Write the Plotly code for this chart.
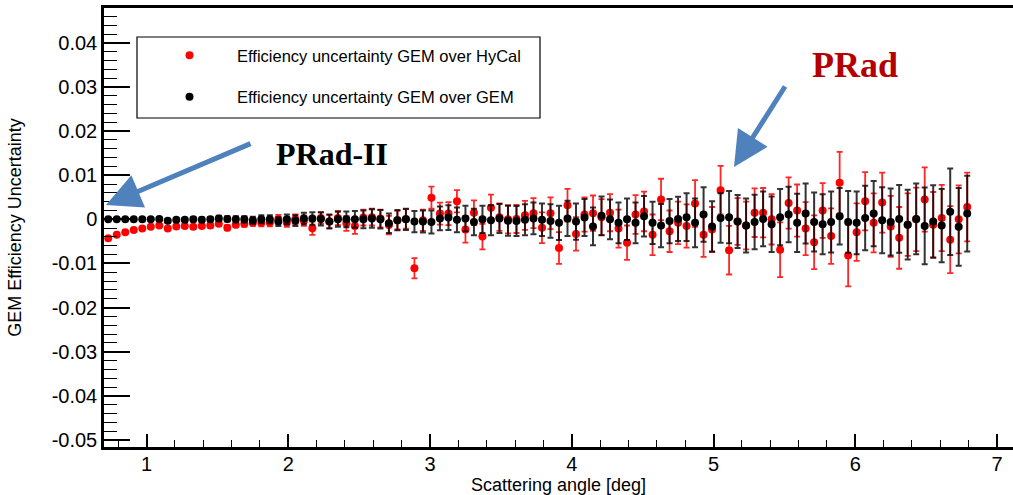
import plotly.graph_objects as go

# bin centres of the scattering angle [deg]
angle = [0.73, 0.79, 0.85, 0.91, 0.97, 1.03, 1.09, 1.15, 1.21, 1.27, 1.33, 1.39, 1.45, 1.51, 1.57, 1.63, 1.69,
         1.75, 1.81, 1.87, 1.93, 1.99, 2.05, 2.11, 2.17, 2.23, 2.29, 2.35, 2.41, 2.47, 2.53, 2.59, 2.65,
         2.71, 2.77, 2.83, 2.89, 2.95, 3.01, 3.07, 3.13, 3.19, 3.25, 3.31, 3.37, 3.43, 3.49, 3.55, 3.61,
         3.67, 3.73, 3.79, 3.85, 3.91, 3.97, 4.03, 4.09, 4.15, 4.21, 4.27, 4.33, 4.39, 4.45, 4.51, 4.57,
         4.63, 4.69, 4.75, 4.81, 4.87, 4.93, 4.99, 5.05, 5.11, 5.17, 5.23, 5.29, 5.35, 5.41, 5.47, 5.53,
         5.59, 5.65, 5.71, 5.77, 5.83, 5.89, 5.95, 6.01, 6.07, 6.13, 6.19, 6.25, 6.31, 6.37, 6.43, 6.49,
         6.55, 6.61, 6.67, 6.73, 6.79]

# GEM over HyCal (red)
hycal_val = [-0.0043, -0.0035, -0.0029, -0.0024, -0.0021, -0.0017, -0.0014, -0.0021, -0.0016, -0.0015,
             -0.0017, -0.0015, -0.0014, -0.0010, -0.0019, -0.0012, -0.0010, -0.0008, -0.0008, -0.0007,
             0.0000, -0.0007, 0.0000, -0.0003, -0.0020, 0.0003, -0.0005, 0.0003, -0.0009, -0.0015,
             0.0004, 0.0005, 0.0002, -0.0013, -0.0002, 0.0001, -0.0111, -0.0002, 0.0049, 0.0013,
             0.0013, 0.0041, -0.0023, 0.0015, -0.0039, 0.0026, 0.0005, 0.0000, 0.0001, 0.0009,
             0.0014, -0.0019, 0.0014, -0.0065, 0.0032, -0.0033, 0.0011, 0.0014, 0.0005, 0.0015,
             -0.0021, -0.0053, 0.0011, 0.0018, -0.0035, 0.0045, -0.0027, -0.0008, -0.0015, 0.0036,
             -0.0035, -0.0023, 0.0066, -0.0070, -0.0005, -0.0014, 0.0015, 0.0015, 0.0000, -0.0069,
             0.0037, 0.0020, -0.0021, -0.0052, 0.0020, -0.0038, 0.0083, -0.0082, -0.0029, 0.0041,
             -0.0008, 0.0038, -0.0016, -0.0042, -0.0012, 0.0000, 0.0045, -0.0012, 0.0003, -0.0046,
             0.0000, 0.0028]
hycal_err = [0.0002, 0.0002, 0.0002, 0.0002, 0.0003, 0.0003, 0.0003, 0.0003, 0.0004, 0.0004,
             0.0004, 0.0004, 0.0005, 0.0005, 0.0006, 0.0006, 0.0007, 0.0007, 0.0008, 0.0009,
             0.0010, 0.0010, 0.0011, 0.0012, 0.0015, 0.0013, 0.0015, 0.0016, 0.0017, 0.0018,
             0.0018, 0.0019, 0.0020, 0.0021, 0.0021, 0.0022, 0.0023, 0.0024, 0.0025, 0.0025,
             0.0026, 0.0025, 0.0030, 0.0028, 0.0029, 0.0030, 0.0031, 0.0032, 0.0032, 0.0033,
             0.0034, 0.0035, 0.0036, 0.0036, 0.0037, 0.0038, 0.0039, 0.0040, 0.0041, 0.0042,
             0.0043, 0.0039, 0.0044, 0.0045, 0.0046, 0.0047, 0.0047, 0.0048, 0.0049, 0.0053,
             0.0050, 0.0051, 0.0055, 0.0055, 0.0053, 0.0054, 0.0055, 0.0056, 0.0057, 0.0062,
             0.0058, 0.0059, 0.0060, 0.0061, 0.0062, 0.0063, 0.0070, 0.0070, 0.0065, 0.0066,
             0.0067, 0.0068, 0.0069, 0.0070, 0.0071, 0.0072, 0.0073, 0.0074, 0.0075, 0.0076,
             0.0077, 0.0078]

# GEM over GEM (black)
gem_val = [0.0000, 0.0000, 0.0000, 0.0000, 0.0000, 0.0000, 0.0001, -0.0003, -0.0001, -0.0001,
           0.0000, -0.0001, 0.0000, 0.0002, 0.0001, 0.0000, 0.0000, -0.0002, 0.0000, 0.0000,
           -0.0005, 0.0000, -0.0003, 0.0002, 0.0002, 0.0001, -0.0005, 0.0000, 0.0000, 0.0000,
           0.0000, 0.0002, 0.0000, -0.0009, -0.0002, 0.0000, -0.0005, -0.0005, -0.0006, 0.0002,
           0.0004, -0.0001, 0.0002, -0.0006, 0.0000, -0.0002, 0.0002, -0.0003, -0.0004, -0.0001,
           0.0002, -0.0001, -0.0004, -0.0008, 0.0002, -0.0005, 0.0004, -0.0016, 0.0008, 0.0000,
           -0.0008, 0.0000, -0.0008, 0.0007, -0.0008, -0.0014, -0.0004, 0.0001, 0.0005, -0.0008,
           0.0011, -0.0016, 0.0003, 0.0005, -0.0005, -0.0014, -0.0006, 0.0001, -0.0011, 0.0005,
           0.0011, -0.0008, 0.0013, -0.0006, -0.0011, -0.0006, 0.0007, -0.0006, -0.0008, 0.0003,
           0.0013, -0.0002, -0.0006, 0.0001, -0.0012, 0.0001, -0.0015, -0.0005, -0.0014, 0.0017,
           -0.0017, 0.0013]
gem_err = [0.0002, 0.0002, 0.0002, 0.0003, 0.0003, 0.0003, 0.0003, 0.0004, 0.0004, 0.0004,
           0.0005, 0.0005, 0.0005, 0.0006, 0.0006, 0.0007, 0.0007, 0.0008, 0.0009, 0.0009,
           0.0010, 0.0011, 0.0012, 0.0013, 0.0014, 0.0015, 0.0016, 0.0017, 0.0018, 0.0019,
           0.0020, 0.0021, 0.0021, 0.0022, 0.0023, 0.0024, 0.0024, 0.0025, 0.0026, 0.0027,
           0.0028, 0.0028, 0.0029, 0.0030, 0.0031, 0.0034, 0.0033, 0.0034, 0.0034, 0.0035,
           0.0036, 0.0037, 0.0038, 0.0039, 0.0040, 0.0041, 0.0042, 0.0043, 0.0044, 0.0045,
           0.0046, 0.0047, 0.0046, 0.0046, 0.0048, 0.0049, 0.0050, 0.0050, 0.0054, 0.0055,
           0.0062, 0.0057, 0.0056, 0.0059, 0.0060, 0.0061, 0.0062, 0.0062, 0.0063, 0.0064,
           0.0063, 0.0066, 0.0068, 0.0067, 0.0068, 0.0069, 0.0064, 0.0070, 0.0071, 0.0073,
           0.0074, 0.0075, 0.0076, 0.0077, 0.0079, 0.0080, 0.0087, 0.0082, 0.0083, 0.0098,
           0.0088, 0.0086]

names = ["Efficiency uncertainty GEM over HyCal", "Efficiency uncertainty GEM over GEM"]
x_ticks = [1, 2, 3, 4, 5, 6, 7]
y_ticks = [-0.05, -0.04, -0.03, -0.02, -0.01, 0.0, 0.01, 0.02, 0.03, 0.04]
y_tick_labels = ["-0.05", "-0.04", "-0.03", "-0.02", "-0.01", "0", "0.01", "0.02", "0.03", "0.04"]

SANS = "Liberation Sans, Arial, Helvetica, sans-serif"
SERIF = "Liberation Serif, Times New Roman, serif"

fig = go.Figure()
fig.add_trace(go.Scatter(
    x=angle, y=hycal_val, mode="markers", name=names[0], legendgroup="a",
    marker=dict(color="#ff0000", size=8, line=dict(width=0)),
    error_y=dict(type="data", array=hycal_err, visible=True, color="rgba(255,0,0,0.85)",
                 thickness=1.8, width=3),
))
fig.add_trace(go.Scatter(
    x=angle, y=gem_val, mode="markers", name=names[1], legendgroup="b",
    marker=dict(color="#000000", size=8, line=dict(width=0)),
    error_y=dict(type="data", array=gem_err, visible=True, color="rgba(0,0,0,0.8)",
                 thickness=2, width=3),
))

W, H = 1013, 495
L, R, T, B = 104, 0, 8, 48
pw, ph = W - L - R, H - T - B


def px(xp):
    return (xp - L) / pw


def py(yp):
    return 1 - (yp - T) / ph


fig.update_layout(
    width=W, height=H,
    margin=dict(l=L, r=R, t=T, b=B),
    paper_bgcolor="white", plot_bgcolor="white",
    font=dict(family=SANS, color="black"),
    showlegend=True,
    legend=dict(x=px(142), y=py(38), xanchor="left", yanchor="top",
                bgcolor="rgba(0,0,0,0)", borderwidth=0,
                font=dict(size=16.5, family=SANS), itemwidth=85, tracegroupgap=17,
                traceorder="grouped"),
    xaxis=dict(range=[0.7, 7.113], tickmode="array", tickvals=x_ticks,
               ticks="inside", ticklen=13, tickwidth=1.5, tickcolor="black",
               minor=dict(dtick=0.2, tick0=0, ticks="inside", ticklen=7, tickwidth=1.2, tickcolor="black"),
               showgrid=False, zeroline=False, showline=True, linewidth=2.5, linecolor="black",
               mirror=True, tickfont=dict(size=20, family=SANS), ticklabelstandoff=-3,
               title=dict(text="Scattering angle [deg]", font=dict(size=18, family=SANS), standoff=3)),
    yaxis=dict(range=[-0.0516, 0.0479], tickmode="array", tickvals=y_ticks, ticktext=y_tick_labels,
               ticks="inside", ticklen=26, tickwidth=1.5, tickcolor="black",
               minor=dict(dtick=0.002, tick0=0, ticks="inside", ticklen=13, tickwidth=1.2, tickcolor="black"),
               showgrid=False, zeroline=False, showline=True, linewidth=2.5, linecolor="black",
               mirror=False, tickfont=dict(size=20, family=SANS),
               title=dict(text="GEM Efficiency Uncertainty", font=dict(size=18, family=SANS), standoff=26)),
    shapes=[dict(type="rect", xref="paper", yref="paper", x0=px(137), x1=px(540), y0=py(118), y1=py(37),
                 line=dict(color="black", width=1.2), fillcolor="rgba(0,0,0,0)", layer="above")],
    annotations=[
        dict(xref="paper", yref="paper", x=px(855), y=py(65), text="<b>PRad</b>", showarrow=False,
             font=dict(family=SERIF, size=36, color="#b40000"), xanchor="center", yanchor="middle"),
        dict(xref="paper", yref="paper", x=px(332), y=py(154), text="<b>PRad-II</b>", showarrow=False,
             font=dict(family=SERIF, size=32, color="black"), xanchor="center", yanchor="middle"),
        dict(xref="paper", yref="paper", x=px(106), y=py(205), ax=146, ay=-62, text="",
             showarrow=True, arrowhead=2, arrowsize=1.4, arrowwidth=5, arrowcolor="#4f81bd",
             standoff=0, startstandoff=0),
        dict(xref="paper", yref="paper", x=px(734), y=py(167), ax=52, ay=-82, text="",
             showarrow=True, arrowhead=2, arrowsize=1.4, arrowwidth=5, arrowcolor="#4f81bd",
             standoff=0, startstandoff=0),
    ],
)

fig.write_html("out.html", config={"displayModeBar": False},
               post_script="document.body.style.margin='0';document.body.style.overflow='hidden';")
